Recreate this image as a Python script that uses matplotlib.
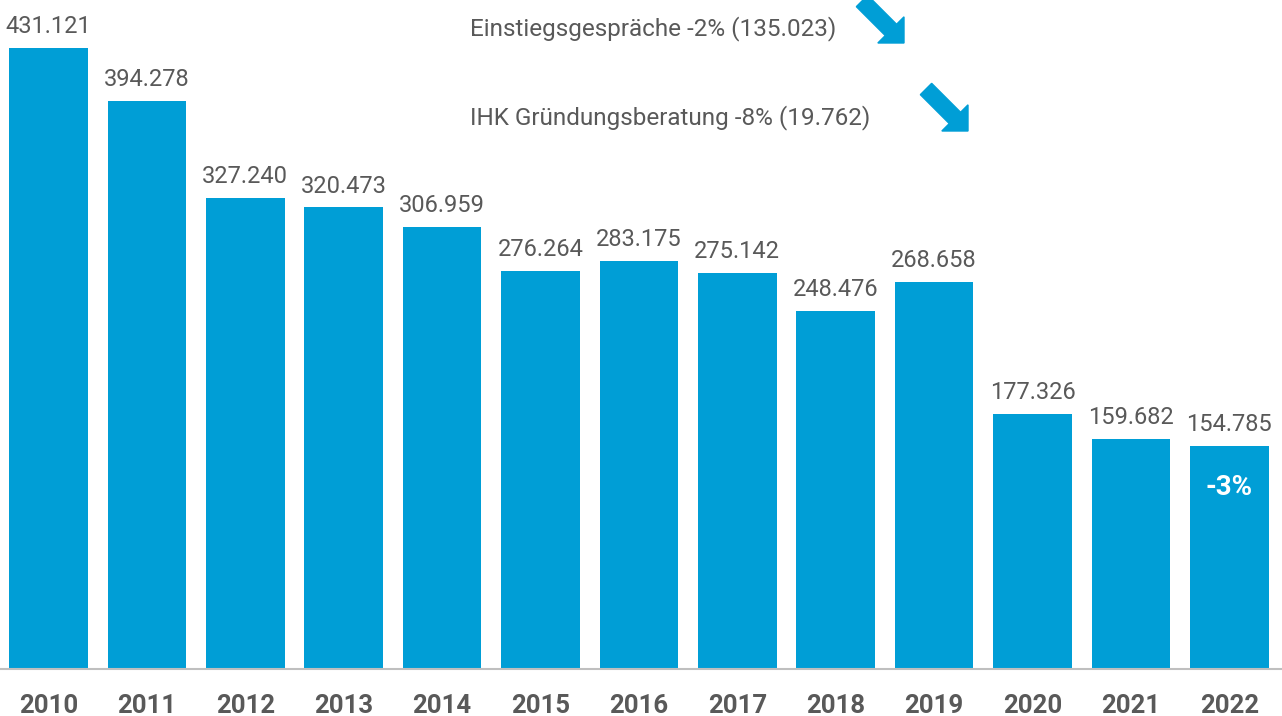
import matplotlib.pyplot as plt
import matplotlib.transforms as mtransforms
from matplotlib.patches import FancyArrow

years = ['2010', '2011', '2012', '2013', '2014', '2015', '2016',
         '2017', '2018', '2019', '2020', '2021', '2022']
values = [431121, 394278, 327240, 320473, 306959, 276264, 283175,
          275142, 248476, 268658, 177326, 159682, 154785]
value_labels = ['431.121', '394.278', '327.240', '320.473', '306.959', '276.264',
                '283.175', '275.142', '248.476', '268.658', '177.326', '159.682', '154.785']
notes = ['Einstiegsgespräche -2% (135.023)', 'IHK Gründungsberatung -8% (19.762)']
last_change = '-3%'

BLUE = '#009ed6'
GREY = '#595959'
plt.rcParams['font.family'] = ['Roboto', 'DejaVu Sans']

W, H = 1282, 716
fig = plt.figure(figsize=(W / 100, H / 100), dpi=100)
# axes: bottom at the baseline (y=669 px), spans full width
ax = fig.add_axes([0, 47 / H, 1, 669 / H])
step = 98.4
ax.set_xlim(-48.5 / step, (W - 48.5) / step)
ax.set_ylim(0, 431121 * 669 / 621)

x = range(len(years))
bars = ax.bar(x, values, width=0.80, color=BLUE)
for i, (v, lab) in enumerate(zip(values, value_labels)):
    ax.annotate(lab, (i, v), xytext=(0, 7), textcoords='offset points',
                ha='center', va='bottom', fontsize=17, color=GREY)
    ax.annotate(years[i], (i, 0), xytext=(0, -26.5), textcoords='offset points',
                ha='center', va='center', fontsize=18.5, color=GREY, fontweight='bold',
                annotation_clip=False)

# percentage change inside last bar
ax.annotate(last_change, (len(years) - 1, values[-1]), xytext=(0, -30),
            textcoords='offset points', ha='center', va='center',
            fontsize=20, color='white', fontweight='bold')

for s in ax.spines.values():
    s.set_visible(False)
ax.set_xticks([])
ax.set_yticks([])
ax.axhline(0, color='#bfbfbf', lw=1.5, clip_on=False)

# pixel transform (origin top-left) for the annotation text and arrows
px = mtransforms.Affine2D().scale(1 / W, -1 / H).translate(0, 1) + fig.transFigure
fig.text(470, 29, notes[0], transform=px, ha='left', va='center', fontsize=17.5, color=GREY)
fig.text(470, 118, notes[1], transform=px, ha='left', va='center', fontsize=17.5, color=GREY)

for tx, ty in [(904, 43), (968, 131)]:
    d = 42
    arr = FancyArrow(tx - d, ty - d, d, d, width=16, head_width=37, head_length=18.5,
                     length_includes_head=True, color=BLUE, transform=px)
    fig.patches.append(arr)

fig.savefig('out.png', dpi=100)
